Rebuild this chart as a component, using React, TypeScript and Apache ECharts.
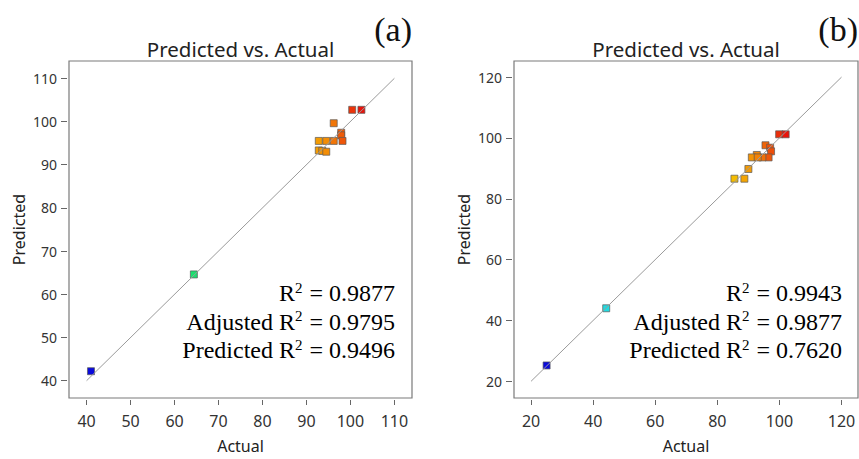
import React, { useEffect, useRef } from 'react';
import * as echarts from 'echarts';

// Chart (a)
const actualA = [41.0, 64.4, 100.4, 102.5, 96.2, 97.9, 97.9, 98.2, 96.2, 94.5, 92.8, 92.8, 93.6, 94.5];
const predictedA = [42.2, 64.6, 102.7, 102.7, 99.6, 97.4, 96.8, 95.5, 95.5, 95.5, 95.5, 93.3, 93.2, 93.0];
const lineA = [40, 110];
const ticksA = [40, 50, 60, 70, 80, 90, 100, 110];
const statsA = ['0.9877', '0.9795', '0.9496'];

// Chart (b)
const actualB = [25.0, 44.2, 99.9, 102.0, 95.5, 97.0, 97.3, 96.5, 94.5, 92.7, 91.1, 93.0, 90.0, 85.5, 88.7];
const predictedB = [25.2, 44.0, 101.2, 101.2, 97.6, 96.8, 95.6, 93.6, 93.6, 94.4, 93.6, 93.6, 89.8, 86.6, 86.6];
const lineB = [20, 120];
const ticksB = [20, 40, 60, 80, 100, 120];
const statsB = ['0.9943', '0.9877', '0.7620'];

const statLabels = ['', 'Adjusted ', 'Predicted '];

const SANS = "'Noto Sans', 'Open Sans', sans-serif";
const SERIF = "'Liberation Serif', 'DejaVu Serif', serif";

const colorStops = [
  '#0a0adc', '#1673de', '#22dce0', '#18e070', '#5ede50',
  '#a8d82c', '#f5d000', '#f38a06', '#e8140c',
];

function pairs(xs: number[], ys: number[]) {
  return xs.map((x, i) => [x, ys[i]]);
}

function makeAxes(gridIndex: number, min: number, max: number, ticks: number[]) {
  const x = {
    type: 'value', gridIndex, min, max, offset: 2,
    axisLine: { show: false },
    axisTick: { show: true, length: 5, customValues: ticks, lineStyle: { color: '#666', width: 1 } },
    axisLabel: { customValues: ticks, fontSize: 16, color: '#333', margin: 13, fontFamily: SANS },
    splitLine: { show: false },
    name: 'Actual', nameLocation: 'middle', nameGap: 38,
    nameTextStyle: { fontSize: 16, color: '#222', fontFamily: SANS },
  };
  const y = {
    type: 'value', gridIndex, min, max, offset: 2,
    axisLine: { show: false },
    axisTick: { show: true, length: 6, customValues: ticks, lineStyle: { color: '#666', width: 1 } },
    axisLabel: { customValues: ticks, fontSize: 14, color: '#333', margin: 10, fontFamily: SANS },
    splitLine: { show: false },
    name: 'Predicted', nameLocation: 'middle', nameGap: 40,
    nameTextStyle: { fontSize: 16, color: '#222', fontFamily: SANS },
  };
  return { x, y };
}

function statTexts(right: number, stats: string[]) {
  const ys = [293, 321.5, 350];
  return stats.map((v, i) => ({
    type: 'text',
    x: right,
    y: ys[i],
    style: {
      text: `{a|${statLabels[i]}R}{s|2}{a| = ${v}}`,
      align: 'right',
      verticalAlign: 'middle',
      rich: {
        a: { fontFamily: SERIF, fontSize: 24, color: '#111', lineHeight: 26 },
        s: { fontFamily: SERIF, fontSize: 15, color: '#111', verticalAlign: 'top', lineHeight: 24, padding: [0, 1, 0, 0] },
      },
    },
  }));
}

export default function App() {
  const ref = useRef<HTMLDivElement>(null);
  useEffect(() => {
    if (!ref.current) return;
    const chart = echarts.init(ref.current, null, { renderer: 'svg' });
    const a = makeAxes(0, 36, 114, ticksA);
    const b = makeAxes(1, 14.5, 125.3, ticksB);
    const scatterStyle = {
      type: 'scatter',
      symbol: 'rect',
      symbolSize: 7,
      itemStyle: { borderColor: 'rgba(90,90,90,0.7)', borderWidth: 1, opacity: 1 },
    };
    const lineStyle = {
      type: 'line', symbol: 'none', silent: true,
      lineStyle: { color: '#9a9a9a', width: 1 },
    };
    chart.setOption({
      animation: false,
      backgroundColor: '#fff',
      grid: [
        { left: 69, top: 61, width: 343, height: 342.5, show: true, borderColor: '#7a7a7a', borderWidth: 1.2 },
        { left: 514, top: 61, width: 344, height: 342.5, show: true, borderColor: '#7a7a7a', borderWidth: 1.2 },
      ],
      xAxis: [a.x, b.x],
      yAxis: [a.y, b.y],
      visualMap: [
        { type: 'continuous', show: false, seriesIndex: 1, dimension: 0,
          min: Math.min(...actualA), max: Math.max(...actualA), inRange: { color: colorStops } },
        { type: 'continuous', show: false, seriesIndex: 3, dimension: 0,
          min: Math.min(...actualB), max: Math.max(...actualB), inRange: { color: colorStops } },
      ],
      series: [
        { ...lineStyle, xAxisIndex: 0, yAxisIndex: 0, data: pairs(lineA, lineA) },
        { ...scatterStyle, xAxisIndex: 0, yAxisIndex: 0, data: pairs(actualA, predictedA) },
        { ...lineStyle, xAxisIndex: 1, yAxisIndex: 1, data: pairs(lineB, lineB) },
        { ...scatterStyle, xAxisIndex: 1, yAxisIndex: 1, data: pairs(actualB, predictedB) },
      ],
      graphic: [
        { type: 'text', x: 240.5, y: 49, style: { text: 'Predicted vs. Actual', align: 'center', verticalAlign: 'middle', fontFamily: SANS, fontSize: 20.5, fill: '#222' } },
        { type: 'text', x: 686, y: 49, style: { text: 'Predicted vs. Actual', align: 'center', verticalAlign: 'middle', fontFamily: SANS, fontSize: 20.5, fill: '#222' } },
        { type: 'text', x: 412, y: 29, style: { text: '(a)', align: 'right', verticalAlign: 'middle', fontFamily: SERIF, fontSize: 34, fill: '#111' } },
        { type: 'text', x: 858, y: 29, style: { text: '(b)', align: 'right', verticalAlign: 'middle', fontFamily: SERIF, fontSize: 34, fill: '#111' } },
        ...statTexts(395, statsA),
        ...statTexts(842, statsB),
      ],
    });
    return () => chart.dispose();
  }, []);
  return <div ref={ref} style={{ position: 'absolute', left: 0, top: 0, width: 859, height: 459 }} />;
}
